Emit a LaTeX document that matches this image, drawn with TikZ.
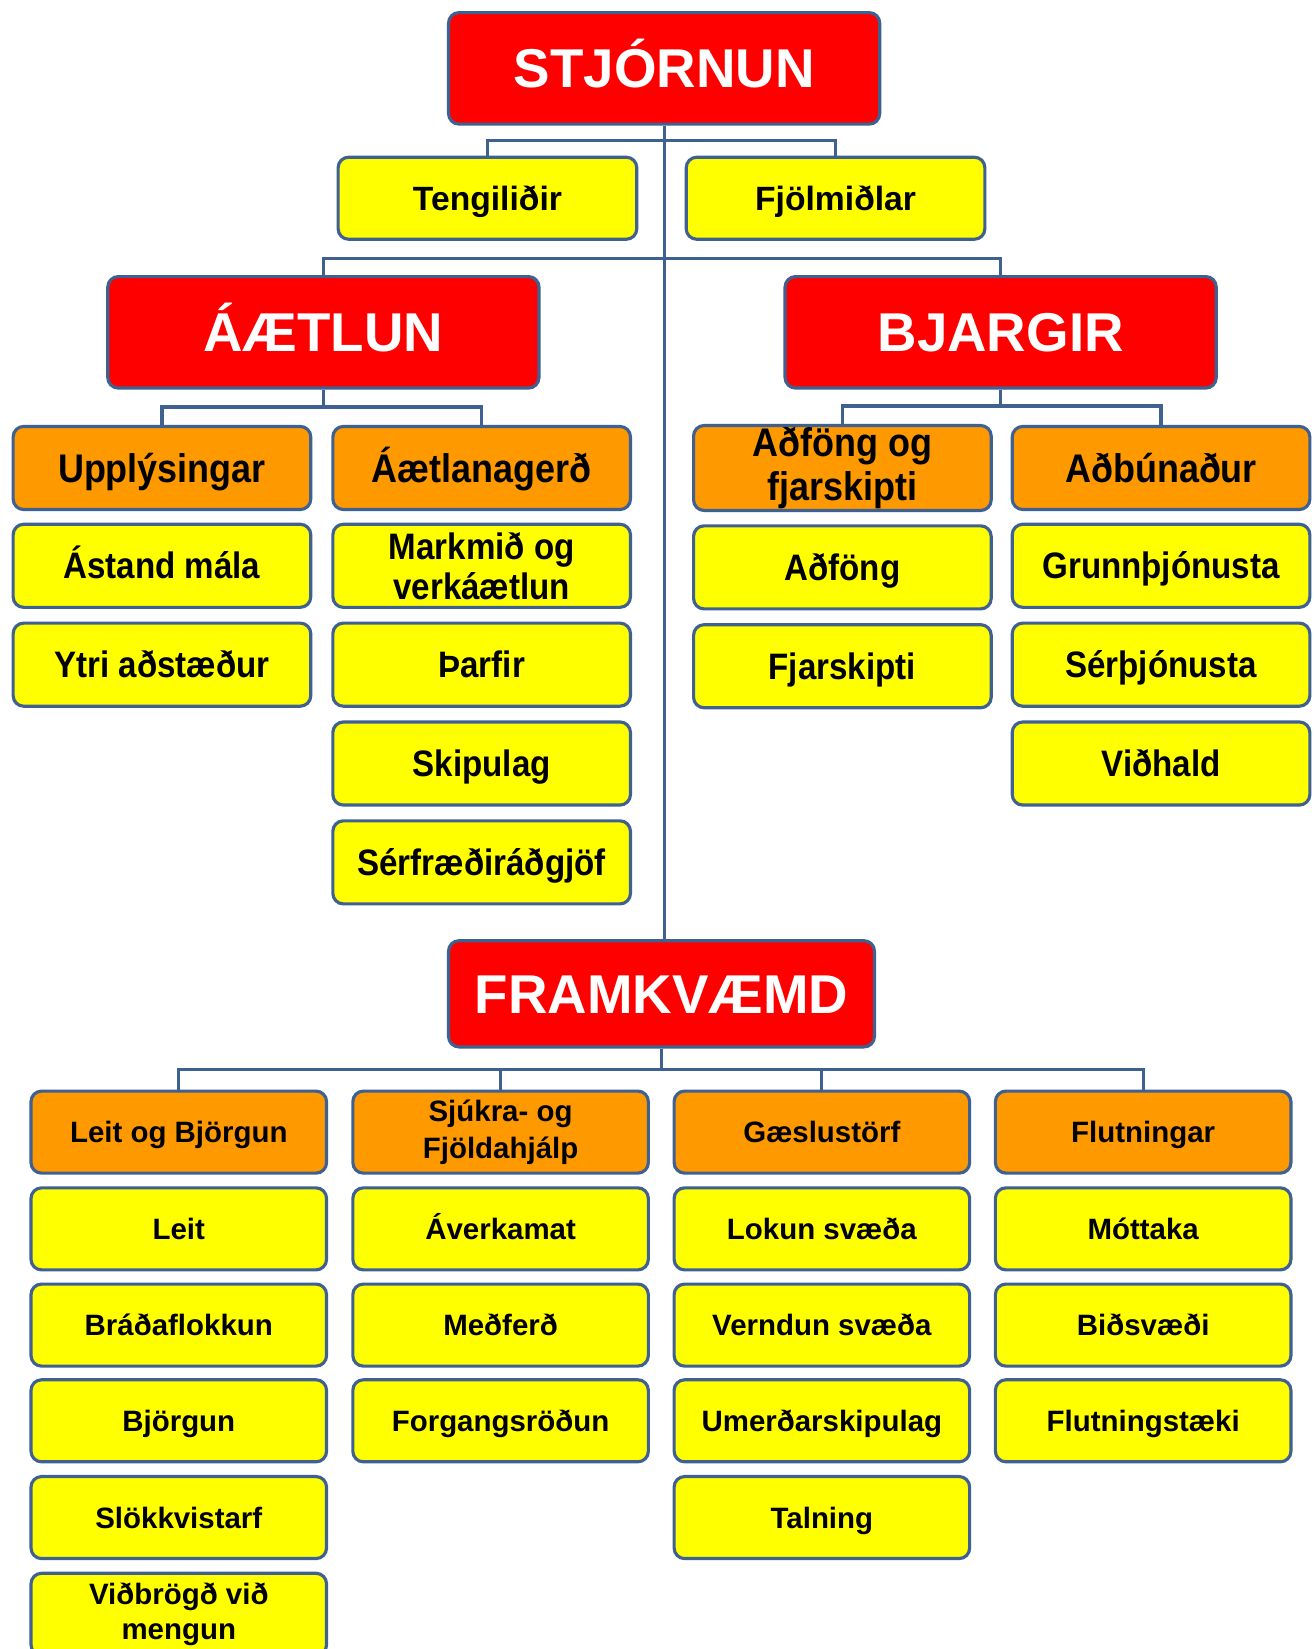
\documentclass[tikz,border=0pt]{standalone}
\usepackage{fontspec}
\setmainfont{Liberation Sans}
\newfontfamily\condfont{Liberation Sans}[FakeStretch=0.9]
\definecolor{bord}{HTML}{3F6191}
\definecolor{orng}{HTML}{FF9900}
\definecolor{yel}{HTML}{FFFF00}
\definecolor{rd}{HTML}{FF0000}
\tikzset{
  box/.style={draw=bord, line width=3pt, rounded corners=10pt, align=center, inner sep=2pt,
    minimum width=283pt, minimum height=79pt, text depth=0pt},
  twoline/.style={text height=, text depth=},
  redbox/.style={box, fill=rd, text=white, font=\fontsize{52}{60}\selectfont\bfseries,
    minimum width=410pt, minimum height=106pt, text height=37pt},
  topbox/.style={box, fill=yel, font=\fontsize{32}{36}\selectfont\bfseries, minimum width=284pt, minimum height=78pt, text height=23pt},
  uor/.style={box, fill=orng, font=\condfont\fontsize{38}{41}\selectfont\bfseries, text height=27pt},
  uye/.style={box, fill=yel, font=\condfont\fontsize{35}{38}\selectfont\bfseries, text height=25pt},
  bor/.style={box, fill=orng, font=\fontsize{28}{35}\selectfont\bfseries, minimum width=281pt, minimum height=78pt, text height=20pt},
  bye/.style={box, fill=yel, font=\fontsize{28}{34}\selectfont\bfseries, minimum width=281pt, minimum height=78pt, text height=20pt},
  conn/.style={draw=bord, line width=3pt},
}
\begin{document}
\begin{tikzpicture}[x=1pt,y=-1pt]
\useasboundingbox (0,0) rectangle (1249,1568);
\clip (0,0) rectangle (1249,1568);
\fill[white] (0,0) rectangle (1249,1568);

% --- top level
\node[redbox] (stj) at (631.5,65) {STJÓRNUN};
\node[topbox] (teng) at (463.5,188.5) {Tengiliðir};
\node[topbox] (fjol) at (794.5,188.5) {Fjölmiðlar};
\node[redbox] (aet) at (307.5,316) {ÁÆTLUN};
\node[redbox] (bja) at (951.5,316) {BJARGIR};
\node[redbox, minimum width=405pt, minimum height=101pt] (fram) at (629,945) {FRAMKVÆMD};

% --- ÁÆTLUN column
\node[uor] (upp) at (154,445) {Upplýsingar};
\node[uye] (ast) at (154,538) {Ástand mála};
\node[uye] (ytr) at (154,632) {Ytri aðstæður};
\node[uor] (aeg) at (458,445) {Áætlanagerð};
\node[uye, twoline] (mark) at (458,538) {Markmið og\\verkáætlun};
\node[uye] (thar) at (458,632) {Þarfir};
\node[uye] (skip) at (458,726) {Skipulag};
\node[uye] (serf) at (458,820) {Sérfræðiráðgjöf};

% --- BJARGIR column
\node[uor, twoline] (adf) at (801,445) {Aðföng og\\fjarskipti};
\node[uye] (adfo) at (801,539.5) {Aðföng};
\node[uye] (fjar) at (801,633.5) {Fjarskipti};
\node[uor] (adb) at (1104,445) {Aðbúnaður};
\node[uye] (grun) at (1104,538) {Grunnþjónusta};
\node[uye] (serth) at (1104,632) {Sérþjónusta};
\node[uye] (vidh) at (1104,726) {Viðhald};

% --- FRAMKVÆMD columns
\node[bor] (leb) at (170,1076.5) {Leit og Björgun};
\node[bye] (leit) at (170,1168.5) {Leit};
\node[bye] (brad) at (170,1260) {Bráðaflokkun};
\node[bye] (bjor) at (170,1351) {Björgun};
\node[bye] (slok) at (170,1443) {Slökkvistarf};
\node[bye, twoline] (vidb) at (170,1535) {Viðbrögð við\\mengun};

\node[bor, twoline] (sjuk) at (476,1076.5) {Sjúkra- og\\Fjöldahjálp};
\node[bye] (aver) at (476,1168.5) {Áverkamat};
\node[bye] (medf) at (476,1260) {Meðferð};
\node[bye] (forg) at (476,1351) {Forgangsröðun};

\node[bor] (gaes) at (781.5,1076.5) {Gæslustörf};
\node[bye] (lok) at (781.5,1168.5) {Lokun svæða};
\node[bye] (vern) at (781.5,1260) {Verndun svæða};
\node[bye] (umf) at (781.5,1351) {Umerðarskipulag};
\node[bye] (taln) at (781.5,1443) {Talning};

\node[bor] (flut) at (1087,1076.5) {Flutningar};
\node[bye] (mott) at (1087,1168.5) {Móttaka};
\node[bye] (bids) at (1087,1260) {Biðsvæði};
\node[bye] (flts) at (1087,1351) {Flutningstæki};

% --- connectors
\path (teng.north) ++(0,-14) coordinate (b1);
\draw[conn] (stj.south) -- (stj.south |- fram.north);
\draw[conn] (teng.north) -- (b1) -| (fjol.north);
\path (aet.north) ++(0,-16) coordinate (b2);
\draw[conn] (aet.north) -- (b2) -| (bja.north);
\path (upp.north) ++(0,-17) coordinate (b3);
\draw[conn] (upp.north) -- (b3) -| (aeg.north);
\draw[conn] (aet.south) -- (aet.south |- b3);
\path (adf.north) ++(0,-17) coordinate (b4);
\draw[conn] (adf.north) -- (b4) -| (adb.north);
\draw[conn] (bja.south) -- (bja.south |- b4);
\path (leb.north) ++(0,-19) coordinate (b5);
\draw[conn] (leb.north) -- (b5) -| (flut.north);
\draw[conn] (sjuk.north) -- (sjuk.north |- b5);
\draw[conn] (gaes.north) -- (gaes.north |- b5);
\draw[conn] (fram.south) -- (fram.south |- b5);
\end{tikzpicture}
\end{document}
